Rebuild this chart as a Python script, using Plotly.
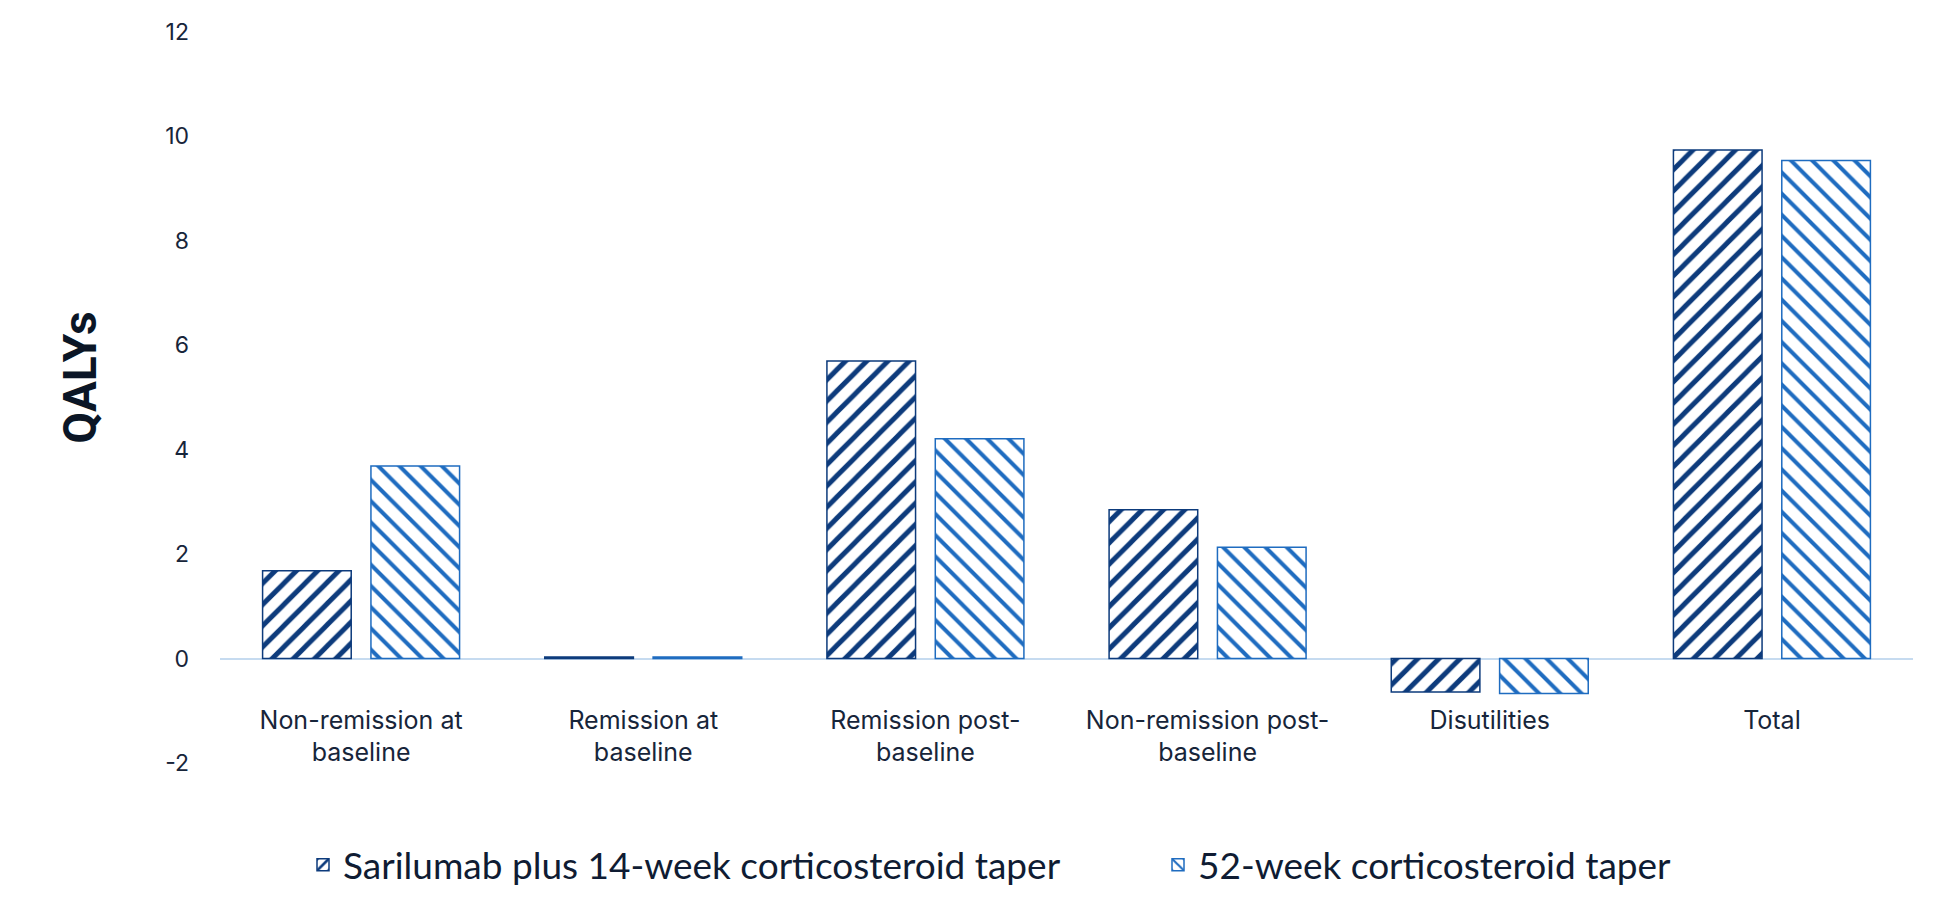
import plotly.graph_objects as go

categories = ['Non-remission at<br>baseline', 'Remission at<br>baseline', 'Remission post-<br>baseline',
              'Non-remission post-<br>baseline', 'Disutilities', 'Total']
sarilumab = [1.68, 0.03, 5.70, 2.85, -0.64, 9.74]
taper_52 = [3.69, 0.03, 4.21, 2.13, -0.67, 9.54]
y_ticks = [-2, 0, 2, 4, 6, 8, 10, 12]
y_tick_labels = ['-2', '0', '2', '4', '6', '8', '10', '12']

dark_blue = '#0d3b7c'
mid_blue = '#1f6cc0'
text_col = '#17253a'

trace0 = go.Bar(
    x=categories,
    y=sarilumab,
    name='Sarilumab plus 14-week corticosteroid taper',
    legend='legend',
    showlegend=True,
    marker=dict(
        color='white',
        line=dict(color=dark_blue, width=1.5),
        pattern=dict(shape='/', fgcolor=dark_blue, bgcolor='white', size=15, solidity=0.33, fillmode='replace')
    )
)
trace1 = go.Bar(
    x=categories,
    y=taper_52,
    name='52-week corticosteroid taper',
    legend='legend2',
    showlegend=True,
    marker=dict(
        color='white',
        line=dict(color=mid_blue, width=1.5),
        pattern=dict(shape='\\', fgcolor=mid_blue, bgcolor='white', size=15, solidity=0.27, fillmode='replace')
    )
)

legend_font = dict(family='Lato', size=37, color='#0f1c33')

layout = go.Layout(
    width=1950,
    height=907,
    showlegend=True,
    margin=dict(l=212, r=45, t=24, b=151.5, autoexpand=False),
    paper_bgcolor='white',
    plot_bgcolor='white',
    barmode='group',
    bargap=0.232,
    bargroupgap=0.182,
    font=dict(family='Inter', color=text_col),
    xaxis=dict(
        anchor='free',
        position=1 / 7,
        showline=False,
        showgrid=False,
        ticks='',
        automargin=False,
        tickfont=dict(family='Inter', size=25, color=text_col),
        ticklabelstandoff=44
    ),
    yaxis=dict(
        range=[-2, 12],
        tickvals=y_ticks,
        ticktext=y_tick_labels,
        showgrid=False,
        showline=False,
        automargin=False,
        zeroline=True,
        zerolinecolor='#c6dbf0',
        zerolinewidth=2,
        tickfont=dict(family='Inter', size=23, color=text_col),
        ticklabelstandoff=30
    ),
    legend=dict(
        orientation='h',
        xref='container',
        yref='container',
        x=295 / 1950,
        xanchor='left',
        y=0.055,
        yanchor='middle',
        font=legend_font
    ),
    legend2=dict(
        orientation='h',
        xref='container',
        yref='container',
        x=1150 / 1950,
        xanchor='left',
        y=0.055,
        yanchor='middle',
        font=legend_font
    ),
    annotations=[dict(
        text='QALYs',
        xref='paper',
        yref='paper',
        x=-0.0827,
        y=0.527,
        xanchor='center',
        yanchor='middle',
        showarrow=False,
        textangle=-90,
        font=dict(family='Roboto', size=46, weight=700, color='#0b1626')
    )]
)

fig = go.Figure(data=[trace0, trace1], layout=layout)
fig.write_html('out.html')
